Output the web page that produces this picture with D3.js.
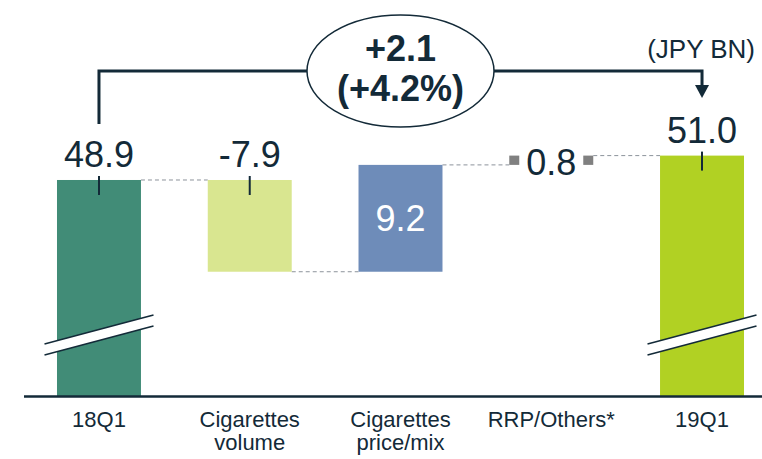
<!DOCTYPE html>
<html>
<head>
<meta charset="utf-8">
<script src="https://cdnjs.cloudflare.com/ajax/libs/d3/7.8.5/d3.min.js"></script>
<style>
  body { margin: 0; background: #fff; }
  svg { display: block; font-family: "Liberation Sans", Arial, sans-serif; }
  text { fill: #132a38; }
</style>
</head>
<body>
<svg width="762" height="459"></svg>
<script>
// data
var categories = ["18Q1", "Cigarettes\nvolume", "Cigarettes\nprice/mix", "RRP/Others*", "19Q1"];
var kinds = ["total", "delta", "delta", "small", "total"];
var values = [48.9, -7.9, 9.2, 0.8, 51.0];
var valueLabels = ["48.9", "-7.9", "9.2", "0.8", "51.0"];
var colors = ["#418c77", "#d9e690", "#6e8cb9", "#808080", "#b1d123"];
var changeLabels = ["+2.1", "(+4.2%)"];
var unitLabel = "(JPY BN)";

var dark = "#132a38";
var svg = d3.select("svg");

// build waterfall rows
var running = 0;
var rows = categories.map(function(c, i) {
  var r = { name: c, kind: kinds[i], label: valueLabels[i], color: colors[i], i: i };
  if (kinds[i] === "total") {
    r.start = 0; r.end = values[i]; running = values[i];
  } else {
    r.start = running; r.end = running + values[i]; running = r.end;
  }
  r.lo = Math.min(r.start, r.end);
  r.hi = Math.max(r.start, r.end);
  return r;
});

// scales (axis is broken, so the baseline stands for 30.3)
var x = d3.scaleBand()
  .domain(categories)
  .range([23.6, 777.4])
  .paddingInner(0.443)
  .paddingOuter(0.2215);

var y = d3.scaleLinear()
  .domain([30.3, 51.0])
  .range([396, 155.6]);

var bw = x.bandwidth();
var cx = function(d) { return x(d.name) + bw / 2; };
var yv = function(v) { return v === 0 ? y.range()[0] : y(v); };

// connectors
var connectors = [];
for (var i = 0; i < rows.length - 1; i++) {
  var a = rows[i], b = rows[i + 1];
  var x1 = x(a.name) + bw, x2 = x(b.name);
  if (a.kind === "small") x1 = cx(a) + 42;
  if (b.kind === "small") x2 = cx(b) - 42;
  connectors.push({ x1: x1, x2: x2, v: a.end });
}
svg.append("g").selectAll("line")
  .data(connectors)
  .enter().append("line")
  .attr("x1", function(d) { return d.x1; })
  .attr("x2", function(d) { return d.x2; })
  .attr("y1", function(d) { return y(d.v); })
  .attr("y2", function(d) { return y(d.v); })
  .attr("stroke", "#8c939b")
  .attr("stroke-width", 1)
  .attr("stroke-dasharray", "4,3");

// bars
svg.append("g").selectAll("rect")
  .data(rows.filter(function(d) { return d.kind !== "small"; }))
  .enter().append("rect")
  .attr("x", function(d) { return x(d.name); })
  .attr("width", bw)
  .attr("y", function(d) { return y(d.hi); })
  .attr("height", function(d) { return yv(d.lo) - y(d.hi); })
  .attr("fill", function(d) { return d.color; });

// small step: two grey squares
var small = rows.filter(function(d) { return d.kind === "small"; });
small.forEach(function(d) {
  [-37, 37].forEach(function(off) {
    svg.append("rect")
      .attr("x", cx(d) + off - 5)
      .attr("width", 10)
      .attr("y", y(d.hi))
      .attr("height", y(d.lo) - y(d.hi))
      .attr("fill", d.color);
  });
});

// axis break marks on the total bars
rows.filter(function(d) { return d.kind === "total"; }).forEach(function(d) {
  var c = cx(d);
  var g = svg.append("g");
  g.append("polygon")
    .attr("points", [[c - 54.5, 344], [c + 54.5, 315], [c + 54.5, 326], [c - 54.5, 355]].join(" "))
    .attr("fill", "#fff");
  [0, 11].forEach(function(dy) {
    g.append("line")
      .attr("x1", c - 54.5).attr("y1", 344 + dy)
      .attr("x2", c + 54.5).attr("y2", 315 + dy)
      .attr("stroke", dark)
      .attr("stroke-width", 1.5);
  });
});

// baseline
svg.append("line")
  .attr("x1", 24).attr("x2", 762)
  .attr("y1", 396.5).attr("y2", 396.5)
  .attr("stroke", dark)
  .attr("stroke-width", 2.5);

// value labels
rows.forEach(function(d) {
  var c = cx(d);
  if (d.kind === "delta" && d.end > d.start) {
    svg.append("text")
      .attr("x", c).attr("y", (y(d.hi) + y(d.lo)) / 2 + 13)
      .attr("text-anchor", "middle")
      .attr("font-size", 36)
      .style("fill", "#fff")
      .text(d.label);
  } else if (d.kind === "small") {
    svg.append("text")
      .attr("x", c).attr("y", y(d.hi) + 19)
      .attr("text-anchor", "middle")
      .attr("font-size", 36)
      .text(d.label);
  } else {
    var top = y(d.kind === "total" ? d.end : d.start);
    svg.append("text")
      .attr("x", c).attr("y", top - 13)
      .attr("text-anchor", "middle")
      .attr("font-size", 36)
      .text(d.label);
    svg.append("line")
      .attr("x1", c).attr("x2", c)
      .attr("y1", top - 4).attr("y2", top + 15)
      .attr("stroke", dark)
      .attr("stroke-width", 2);
  }
});

// category labels, one text per line
rows.forEach(function(d) {
  d.name.split("\n").forEach(function(line, k) {
    svg.append("text")
      .attr("x", cx(d))
      .attr("y", 427 + k * 23)
      .attr("text-anchor", "middle")
      .attr("font-size", 22)
      .text(line);
  });
});

// bracket 18Q1 -> 19Q1
var first = rows[0], last = rows[rows.length - 1];
var bx1 = cx(first), bx2 = cx(last), by = 71;
svg.append("path")
  .attr("d", "M" + bx1 + "," + (y(first.end) - 56) + "V" + by + "H" + bx2 + "V86")
  .attr("fill", "none")
  .attr("stroke", dark)
  .attr("stroke-width", 3);
svg.append("path")
  .attr("d", "M" + (bx2 - 7) + ",85L" + (bx2 + 7) + ",85L" + bx2 + ",98Z")
  .attr("fill", dark);

// ellipse with the change
svg.append("ellipse")
  .attr("cx", 400.5).attr("cy", 71)
  .attr("rx", 93.5).attr("ry", 56)
  .attr("fill", "#fff")
  .attr("stroke", dark)
  .attr("stroke-width", 1.5);
changeLabels.forEach(function(s, k) {
  svg.append("text")
    .attr("x", 400.5).attr("y", 61 + k * 40)
    .attr("text-anchor", "middle")
    .attr("font-size", 36)
    .attr("font-weight", "bold")
    .text(s);
});

// unit
svg.append("text")
  .attr("x", 755).attr("y", 58)
  .attr("text-anchor", "end")
  .attr("font-size", 26)
  .text(unitLabel);
</script>
</body>
</html>
